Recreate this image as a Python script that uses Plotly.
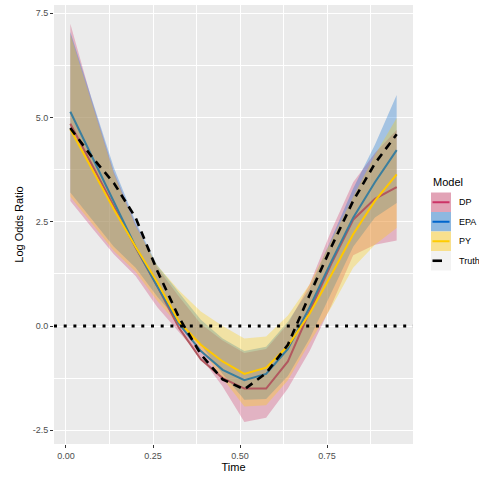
import plotly.graph_objects as go

# ---- data ----
time = [0.0125, 0.075, 0.1375, 0.2, 0.2625, 0.325, 0.3875, 0.45,
        0.5125, 0.575, 0.6375, 0.7, 0.7625, 0.825, 0.8875, 0.95]

truth = [4.75, 4.05, 3.43, 2.6, 1.32, 0.2, -0.68, -1.28,
         -1.52, -1.13, -0.45, 0.75, 1.9, 3.0, 3.9, 4.6]

dp_est = [4.85, 3.85, 2.85, 1.88, 0.95, -0.05, -0.8, -1.25,
          -1.5, -1.5, -0.85, 0.35, 1.5, 2.55, 3.05, 3.33]
dp_up = [7.25, 5.4, 3.7, 2.45, 1.4, 0.7, 0.05, -0.35,
         -0.65, -0.55, 0.05, 1.0, 2.3, 3.45, 4.15, 4.7]
dp_lo = [3.0, 2.35, 1.72, 1.2, 0.45, -0.15, -0.75, -1.45,
         -2.3, -2.2, -1.5, -0.6, 0.5, 1.7, 1.95, 2.05]

epa_est = [5.14, 4.05, 2.95, 1.9, 0.95, 0.05, -0.6, -1.05,
           -1.3, -1.15, -0.55, 0.45, 1.55, 2.6, 3.45, 4.22]
epa_up = [7.05, 5.45, 3.8, 2.5, 1.45, 0.8, 0.15, -0.3,
          -0.6, -0.5, 0.1, 0.9, 2.1, 3.3, 4.35, 5.54]
epa_lo = [3.2, 2.55, 1.9, 1.4, 0.7, 0.1, -0.45, -1.15,
          -1.77, -1.75, -1.2, -0.3, 0.8, 1.9, 2.6, 2.95]

py_est = [4.72, 3.76, 2.8, 1.9, 1.05, 0.1, -0.45, -0.85,
          -1.15, -1.0, -0.48, 0.3, 1.23, 2.2, 3.0, 3.64]
py_up = [7.0, 5.3, 3.65, 2.4, 1.45, 0.85, 0.35, 0.0,
         -0.3, -0.25, 0.25, 1.0, 2.05, 3.1, 4.1, 4.99]
py_lo = [3.1, 2.45, 1.8, 1.3, 0.6, 0.0, -0.55, -1.25,
         -1.93, -1.9, -1.3, -0.4, 0.45, 1.4, 1.95, 2.35]

models = ["DP", "EPA", "PY"]
x_ticks = [0, 0.25, 0.5, 0.75]
x_ticklabels = ["0.00", "0.25", "0.50", "0.75"]
y_ticks = [-2.5, 0, 2.5, 5, 7.5]
y_ticklabels = ["-2.5", "0.0", "2.5", "5.0", "7.5"]

# ---- styles ----
band_fill = {"DP": "rgba(204,51,102,0.3)", "EPA": "rgba(0,102,204,0.3)", "PY": "rgba(255,204,0,0.3)"}
line_col = {"DP": "#B2585F", "EPA": "#3A7E9E", "PY": "#FFC800"}
key_fill = {"DP": "#E2A3B6", "EPA": "#8EB8E0", "PY": "#F8E08E"}
key_line = {"DP": "#CC3366", "EPA": "#0066CC", "PY": "#FFCC00"}
FONT = "Liberation Sans, Arial, sans-serif"

series = {
    "DP": (dp_est, dp_up, dp_lo),
    "EPA": (epa_est, epa_up, epa_lo),
    "PY": (py_est, py_up, py_lo),
}

fig = go.Figure()

for m in models:
    est, up, lo = series[m]
    fig.add_trace(go.Scatter(
        x=time + time[::-1], y=up + lo[::-1], fill="toself",
        fillcolor=band_fill[m], line=dict(width=0), mode="lines",
        showlegend=False, hoverinfo="skip"))

for m in models:
    est, up, lo = series[m]
    fig.add_trace(go.Scatter(
        x=time, y=est, mode="lines", line=dict(color=line_col[m], width=2),
        showlegend=False))

fig.add_trace(go.Scatter(
    x=time, y=truth, mode="lines",
    line=dict(color="black", width=2.6, dash="8px,6px"), showlegend=False))

# ---- geometry helpers ----
W, H = 479, 477
ml, mr, mt, mb = 54, 66, 5, 33
pw, ph = W - ml - mr, H - mt - mb


def px_x(px):
    return (px - ml) / pw


def px_y(py):
    return (H - mb - py) / ph


shapes = []
# zero reference (dotted)
shapes.append(dict(type="line", xref="paper", yref="y", x0=0, x1=1, y0=0, y1=0,
                   line=dict(color="black", width=2.8, dash="3px,6.7px"), layer="above"))

# ---- manual legend (ggplot style) ----
annotations = []
annotations.append(dict(x=px_x(431), y=px_y(182), xref="paper", yref="paper",
                        text="Model", showarrow=False, xanchor="left", yanchor="middle",
                        font=dict(family=FONT, size=11, color="black")))
key_tops = [192.5, 212, 231.5, 251]
labels = models + ["Truth"]
for i, lab in enumerate(labels):
    y0 = key_tops[i]
    y1 = y0 + 19.5
    fill = key_fill.get(lab, "#F2F2F2")
    shapes.append(dict(type="rect", xref="paper", yref="paper",
                       x0=px_x(431), x1=px_x(451), y0=px_y(y1), y1=px_y(y0),
                       fillcolor=fill, line=dict(width=0), layer="above"))
    yc = (y0 + y1) / 2
    if lab == "Truth":
        shapes.append(dict(type="line", xref="paper", yref="paper",
                           x0=px_x(432.5), x1=px_x(442), y0=px_y(yc), y1=px_y(yc),
                           line=dict(color="black", width=2.6), layer="above"))
    else:
        shapes.append(dict(type="line", xref="paper", yref="paper",
                           x0=px_x(432.5), x1=px_x(449.5), y0=px_y(yc), y1=px_y(yc),
                           line=dict(color=key_line[lab], width=2), layer="above"))
    annotations.append(dict(x=px_x(457), y=px_y(yc), xref="paper", yref="paper",
                            text=lab, showarrow=False, xanchor="left", yanchor="middle",
                            font=dict(family=FONT, size=9, color="black")))

fig.update_layout(
    width=W, height=H,
    margin=dict(l=ml, r=mr, t=mt, b=mb),
    paper_bgcolor="white", plot_bgcolor="#EBEBEB",
    font=dict(family=FONT),
    shapes=shapes, annotations=annotations,
    showlegend=False,
)

fig.update_xaxes(
    range=[-0.0344, 0.9969], tickvals=x_ticks, ticktext=x_ticklabels,
    ticks="outside", ticklen=3, tickwidth=1, tickcolor="#333333",
    tickfont=dict(family=FONT, size=9, color="#4D4D4D"),
    showgrid=True, gridcolor="white", gridwidth=1.1, zeroline=False, showline=False,
    minor=dict(dtick=0.125, tick0=0.125, showgrid=True, gridcolor="white", gridwidth=0.5, ticks=""),
    title=dict(text="Time", font=dict(family=FONT, size=11, color="black"), standoff=2),
)
fig.update_yaxes(
    range=[-2.83, 7.70], tickvals=y_ticks, ticktext=y_ticklabels,
    ticks="outside", ticklen=3, tickwidth=1, tickcolor="#333333",
    tickfont=dict(family=FONT, size=9, color="#4D4D4D"),
    showgrid=True, gridcolor="white", gridwidth=1.1, zeroline=False, showline=False,
    minor=dict(dtick=1.25, tick0=-1.25, showgrid=True, gridcolor="white", gridwidth=0.5, ticks=""),
    title=dict(text="Log Odds Ratio", font=dict(family=FONT, size=11, color="black"), standoff=6),
)

fig.write_html("out.html")
